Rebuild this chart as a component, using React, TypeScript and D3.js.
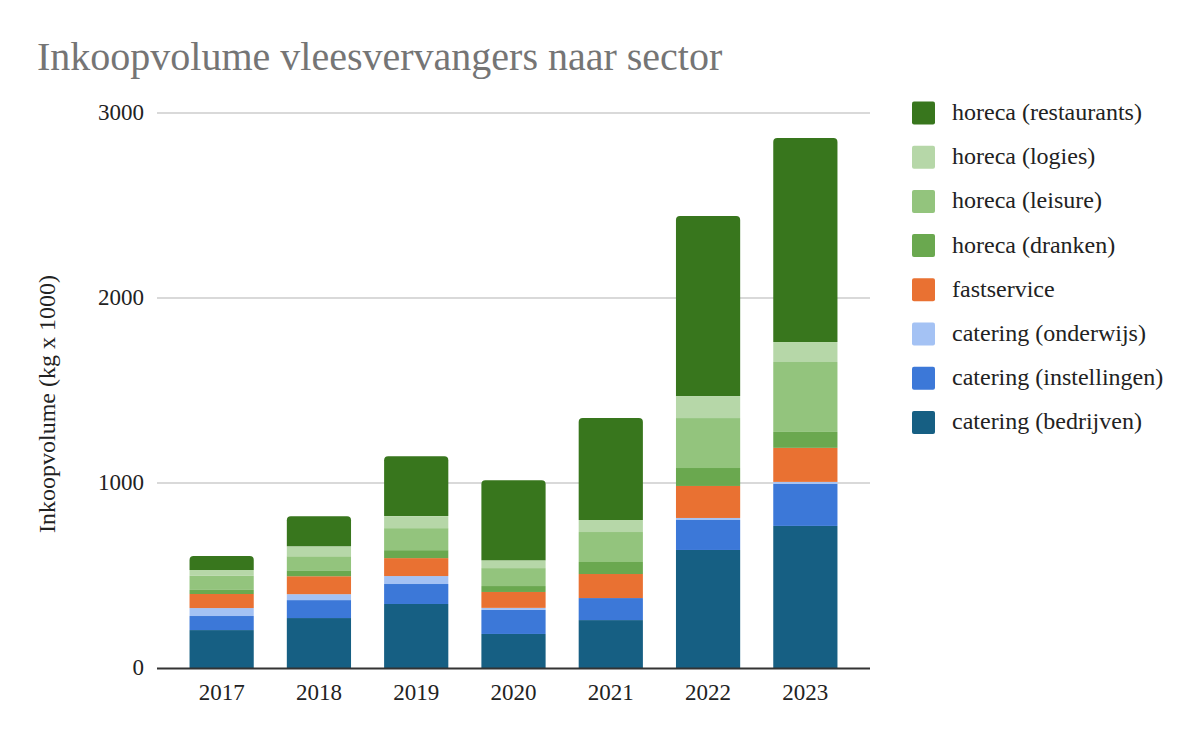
import React from "react";
import * as d3 from "d3";

const years = ["2017", "2018", "2019", "2020", "2021", "2022", "2023"];
const seriesNames = [
  "catering (bedrijven)",
  "catering (instellingen)",
  "catering (onderwijs)",
  "fastservice",
  "horeca (dranken)",
  "horeca (leisure)",
  "horeca (logies)",
  "horeca (restaurants)",
];
const seriesColors = ["#165f83", "#3c78d8", "#a4c2f4", "#e97132", "#6aa84f", "#93c47d", "#b6d7a8", "#38761d"];
const bedrijven = [205, 270, 346, 184, 259, 638, 768];
const instellingen = [76, 97, 108, 130, 119, 162, 227];
const onderwijs = [43, 32, 43, 11, 0, 11, 11];
const fastservice = [76, 97, 97, 86, 130, 173, 184];
const dranken = [22, 32, 43, 32, 65, 97, 86];
const leisure = [76, 76, 119, 97, 162, 270, 378];
const logies = [32, 54, 65, 43, 65, 119, 108];
const restaurants = [76, 162, 324, 432, 551, 973, 1103];
const yTicks = [0, 1000, 2000, 3000];

const seriesValues = [bedrijven, instellingen, onderwijs, fastservice, dranken, leisure, logies, restaurants];

export default function App() {
  const W = 1200, H = 742;
  const x = d3.scaleBand<string>().domain(years).range([173, 854]).paddingInner(0.34).paddingOuter(0.17);
  const y = d3.scaleLinear().domain([0, 3000]).range([668, 113]);
  const rows = years.map((yr, i) => {
    const r: any = { year: yr };
    seriesNames.forEach((s, k) => (r[s] = seriesValues[k][i]));
    return r;
  });
  const stacked = d3.stack<any>().keys(seriesNames)(rows);
  const font = "'Liberation Serif', 'Times New Roman', serif";
  const bw = x.bandwidth();
  const rad = 4;
  const topPath = (x0: number, y0: number, y1: number) => {
    const h = y1 - y0;
    const r = Math.min(rad, h);
    return `M${x0},${y1}V${y0 + r}Q${x0},${y0} ${x0 + r},${y0}H${x0 + bw - r}Q${x0 + bw},${y0} ${x0 + bw},${y0 + r}V${y1}Z`;
  };
  return (
    <svg width={W} height={H} style={{ position: "absolute", left: 0, top: 0, background: "#fff" }} fontFamily={font}>
      <text x={37} y={70} fontSize={40} fill="#757575">Inkoopvolume vleesvervangers naar sector</text>
      {yTicks.map((t) => (
        <g key={t}>
          {t > 0 && <line x1={157} x2={870} y1={y(t)} y2={y(t)} stroke="#cccccc" strokeWidth={1.5} />}
          <text x={144} y={y(t) + 7} fontSize={23} textAnchor="end" fill="#222">{t}</text>
        </g>
      ))}
      <text transform={`translate(55,${404}) rotate(-90)`} fontSize={24} textAnchor="middle" fill="#222">
        Inkoopvolume (kg x 1000)
      </text>
      {stacked.map((layer, k) => (
        <g key={seriesNames[k]} fill={seriesColors[k]}>
          {layer.map((d, i) => {
            const x0 = x(years[i])!;
            const y0 = y(d[1]);
            const y1 = y(d[0]);
            if (y1 - y0 <= 0) return null;
            if (k === seriesNames.length - 1) return <path key={i} d={topPath(x0, y0, y1)} />;
            return <rect key={i} x={x0} y={y0} width={bw} height={y1 - y0} />;
          })}
        </g>
      ))}
      <line x1={157} x2={870} y1={668.5} y2={668.5} stroke="#333" strokeWidth={2} />
      {years.map((yr) => (
        <text key={yr} x={x(yr)! + bw / 2} y={700} fontSize={23} textAnchor="middle" fill="#222">{yr}</text>
      ))}
      {seriesNames.slice().reverse().map((s, i) => {
        const cy = 113 + i * 44.2;
        const k = seriesNames.length - 1 - i;
        return (
          <g key={s}>
            <rect x={912} y={cy - 11.5} width={23} height={23} rx={2} fill={seriesColors[k]} />
            <text x={952} y={cy + 7} fontSize={24} fill="#222">{s}</text>
          </g>
        );
      })}
    </svg>
  );
}
